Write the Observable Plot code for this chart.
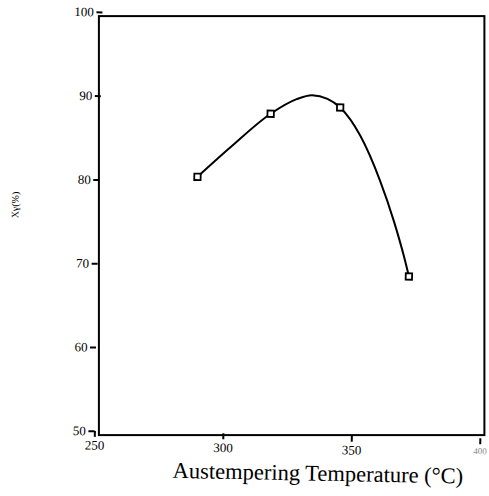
<!DOCTYPE html>
<html>
<head>
<meta charset="utf-8">
<script src="https://cdn.jsdelivr.net/npm/d3@7"></script>
<script src="https://cdn.jsdelivr.net/npm/@observablehq/plot@0.6"></script>
<style>
  html, body { margin: 0; padding: 0; background: #fff; }
</style>
</head>
<body>
<div id="chart"></div>
<script>
const xTicks = [250, 300, 350, 400];
const yTicks = [50, 60, 70, 80, 90, 100];
const xLabel = "Austempering Temperature (°C)";
const yLabel = "Xγ(%)";

// measured points
const temperature = [288, 316, 343, 371];
const retainedAustenite = [80.6, 88.3, 89.2, 69.2];

// smooth curve
const curveTemp = [288, 300.6, 316, 326, 332, 338, 343, 351, 359, 364.7, 369, 371];
const curveValue = [80.6, 84.2, 88.3, 90.1, 90.6, 90.2, 89.2, 85.9, 80.6, 75.8, 71.5, 69.2];

const points = temperature.map((t, i) => ({x: t, y: retainedAustenite[i]}));
const curve = curveTemp.map((t, i) => ({x: t, y: curveValue[i]}));

const chart = Plot.plot({
  width: 489,
  height: 496,
  marginLeft: 98.4,
  marginRight: 5.1,
  marginTop: 15.6,
  marginBottom: 61.4,
  style: {fontFamily: "'Liberation Serif', 'Times New Roman', serif", fontSize: "13px", color: "#000", background: "#fff"},
  x: {domain: [250, 400]},
  y: {domain: [50, 100]},
  marks: [
    Plot.frame({stroke: "#000", strokeWidth: 2}),
    Plot.axisX({ticks: xTicks, tickSize: 6, tickPadding: 3, label: null, strokeWidth: 2, fontSize: 13}),
    Plot.axisY({ticks: yTicks, tickSize: 6, tickPadding: 3, label: null, strokeWidth: 2, fontSize: 13}),
    Plot.line(curve, {x: "x", y: "y", curve: "monotone-x", stroke: "#000", strokeWidth: 2}),
    Plot.dot(points, {x: "x", y: "y", symbol: "square", r: 3.6, stroke: "#000", strokeWidth: 1.8, fill: "#fff"}),
    Plot.text([0], {frameAnchor: "bottom", text: () => xLabel, dx: 31, dy: 45, fontSize: 22.5, fill: "#000", ariaLabel: "xlabel"}),
    Plot.text([0], {frameAnchor: "left", text: () => yLabel, rotate: -90, dx: -84, dy: -2, fontSize: 10, fill: "#000", ariaLabel: "ylabel"})
  ]
});

// the scanned figure is slightly rotated: rotate all chart parts except the axis titles
const svgns = "http://www.w3.org/2000/svg";
const gRot = document.createElementNS(svgns, "g");
gRot.setAttribute("transform", "rotate(1.1 291.2 225.1)");
const kids = Array.from(chart.children);
const keep = [];
kids.forEach(c => {
  if (c.tagName.toLowerCase() === "g") {
    const a = c.getAttribute("aria-label");
    if (a === "xlabel" || a === "ylabel") keep.push(c);
    else gRot.appendChild(c);
  }
});
chart.appendChild(gRot);
keep.forEach(c => chart.appendChild(c));

// the last x tick label is faint in the original
const xt = chart.querySelectorAll('g[aria-label="x-axis tick label"] text');
if (xt.length) {
  const last = xt[xt.length - 1];
  last.setAttribute("fill", "#888");
  last.setAttribute("font-size", "9");
}

document.getElementById("chart").appendChild(chart);
</script>
</body>
</html>
